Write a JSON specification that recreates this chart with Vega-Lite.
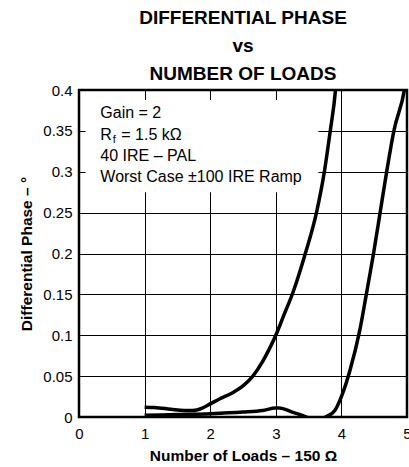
{
  "$schema": "https://vega.github.io/schema/vega-lite/v6.json",
  "autosize": {"type": "none"},
  "padding": {"left": 79, "top": 90, "right": 2, "bottom": 50},
  "width": 328,
  "height": 327,
  "background": "white",
  "config": {
    "font": "Liberation Sans",
    "view": {"stroke": "black", "strokeWidth": 2.5},
    "axis": {"labelColor": "black", "titleColor": "black"}
  },
  "title": {
    "text": ["DIFFERENTIAL PHASE", "vs", "NUMBER OF LOADS"],
    "font": "Liberation Sans",
    "fontSize": 19,
    "fontWeight": "bold",
    "lineHeight": 28,
    "anchor": "middle",
    "frame": "group",
    "color": "black",
    "offset": -10
  },
  "datasets": {
    "curves": [
      {"loads": 1.0, "phase": 0.012, "series": "A"},
      {"loads": 1.15, "phase": 0.0115, "series": "A"},
      {"loads": 1.4, "phase": 0.0095, "series": "A"},
      {"loads": 1.6, "phase": 0.008, "series": "A"},
      {"loads": 1.73, "phase": 0.008, "series": "A"},
      {"loads": 1.88, "phase": 0.011, "series": "A"},
      {"loads": 2.0, "phase": 0.016, "series": "A"},
      {"loads": 2.14, "phase": 0.022, "series": "A"},
      {"loads": 2.35, "phase": 0.03, "series": "A"},
      {"loads": 2.5, "phase": 0.038, "series": "A"},
      {"loads": 2.65, "phase": 0.05, "series": "A"},
      {"loads": 2.8, "phase": 0.068, "series": "A"},
      {"loads": 2.9, "phase": 0.083, "series": "A"},
      {"loads": 3.0, "phase": 0.1, "series": "A"},
      {"loads": 3.12, "phase": 0.124, "series": "A"},
      {"loads": 3.26, "phase": 0.152, "series": "A"},
      {"loads": 3.45, "phase": 0.2, "series": "A"},
      {"loads": 3.62, "phase": 0.25, "series": "A"},
      {"loads": 3.74, "phase": 0.3, "series": "A"},
      {"loads": 3.83, "phase": 0.35, "series": "A"},
      {"loads": 3.91, "phase": 0.4, "series": "A"},
      {"loads": 3.93, "phase": 0.42, "series": "A"},
      {"loads": 1.0, "phase": 0.002, "series": "B"},
      {"loads": 1.5, "phase": 0.003, "series": "B"},
      {"loads": 2.0, "phase": 0.004, "series": "B"},
      {"loads": 2.5, "phase": 0.006, "series": "B"},
      {"loads": 2.8, "phase": 0.008, "series": "B"},
      {"loads": 3.0, "phase": 0.011, "series": "B"},
      {"loads": 3.05, "phase": 0.011, "series": "B"},
      {"loads": 3.25, "phase": 0.006, "series": "B"},
      {"loads": 3.47, "phase": 0.0, "series": "B"},
      {"loads": 3.62, "phase": -0.006, "series": "B"},
      {"loads": 3.76, "phase": 0.0, "series": "B"},
      {"loads": 3.9, "phase": 0.008, "series": "B"},
      {"loads": 4.0, "phase": 0.025, "series": "B"},
      {"loads": 4.13, "phase": 0.057, "series": "B"},
      {"loads": 4.28, "phase": 0.106, "series": "B"},
      {"loads": 4.38, "phase": 0.15, "series": "B"},
      {"loads": 4.49, "phase": 0.2, "series": "B"},
      {"loads": 4.59, "phase": 0.25, "series": "B"},
      {"loads": 4.69, "phase": 0.3, "series": "B"},
      {"loads": 4.8, "phase": 0.35, "series": "B"},
      {"loads": 4.96, "phase": 0.4, "series": "B"},
      {"loads": 4.98, "phase": 0.41, "series": "B"}
    ]
  },
  "layer": [
    {
      "data": {"name": "curves"},
      "mark": {"type": "line", "opacity": 0},
      "encoding": {
        "x": {
          "field": "loads", "type": "quantitative",
          "scale": {"domain": [0, 5], "nice": false, "zero": false},
          "axis": {
            "values": [0, 1, 2, 3, 4, 5],
            "format": "d",
            "title": "Number of Loads – 150 Ω",
            "grid": true, "gridColor": "black", "gridWidth": 1, "gridOpacity": 1,
            "ticks": false, "domain": false,
            "labelFlush": false,
            "labelFontSize": 15, "labelPadding": 9,
            "titleFontSize": 15.5, "titleFontWeight": "bold", "titlePadding": 7
          }
        },
        "y": {
          "field": "phase", "type": "quantitative",
          "scale": {"domain": [0, 0.4], "nice": false, "zero": false},
          "axis": {
            "values": [0, 0.05, 0.1, 0.15, 0.2, 0.25, 0.3, 0.35, 0.4],
            "format": "~g",
            "title": "Differential Phase – °",
            "grid": true, "gridColor": "black", "gridWidth": 1, "gridOpacity": 1,
            "ticks": false, "domain": false,
            "labelFontSize": 15, "labelPadding": 7,
            "titleFontSize": 15.5, "titleFontWeight": "bold", "titlePadding": 8
          }
        },
        "detail": {"field": "series", "type": "nominal"}
      }
    },
    {
      "data": {"values": [{}]},
      "mark": {"type": "rect", "fill": "white", "stroke": null},
      "encoding": {
        "x": {"datum": 0.1, "type": "quantitative"},
        "x2": {"datum": 3.65},
        "y": {"datum": 0.3878, "type": "quantitative"},
        "y2": {"datum": 0.2748}
      }
    },
    {
      "data": {"values": [{}]},
      "mark": {"type": "text", "text": "Gain = 2", "fontSize": 16, "align": "left", "baseline": "alphabetic", "color": "black"},
      "encoding": {"x": {"datum": 0.325, "type": "quantitative"}, "y": {"datum": 0.3654, "type": "quantitative"}}
    },
    {
      "data": {"values": [{}]},
      "mark": {"type": "text", "text": "R", "fontSize": 16, "align": "left", "baseline": "alphabetic", "color": "black"},
      "encoding": {"x": {"datum": 0.325, "type": "quantitative"}, "y": {"datum": 0.3388, "type": "quantitative"}}
    },
    {
      "data": {"values": [{}]},
      "mark": {"type": "text", "text": "f", "fontSize": 11, "align": "left", "baseline": "alphabetic", "dx": 12.5, "dy": 3, "color": "black"},
      "encoding": {"x": {"datum": 0.325, "type": "quantitative"}, "y": {"datum": 0.3388, "type": "quantitative"}}
    },
    {
      "data": {"values": [{}]},
      "mark": {"type": "text", "text": "= 1.5 kΩ", "fontSize": 16, "align": "left", "baseline": "alphabetic", "dx": 21, "color": "black"},
      "encoding": {"x": {"datum": 0.325, "type": "quantitative"}, "y": {"datum": 0.3388, "type": "quantitative"}}
    },
    {
      "data": {"values": [{}]},
      "mark": {"type": "text", "text": "40 IRE – PAL", "fontSize": 16, "align": "left", "baseline": "alphabetic", "color": "black"},
      "encoding": {"x": {"datum": 0.325, "type": "quantitative"}, "y": {"datum": 0.3135, "type": "quantitative"}}
    },
    {
      "data": {"values": [{}]},
      "mark": {"type": "text", "text": "Worst Case ±100 IRE Ramp", "fontSize": 16, "align": "left", "baseline": "alphabetic", "color": "black"},
      "encoding": {"x": {"datum": 0.325, "type": "quantitative"}, "y": {"datum": 0.2871, "type": "quantitative"}}
    },
    {
      "data": {"name": "curves"},
      "mark": {"type": "line", "color": "black", "strokeWidth": 3.5, "clip": true, "interpolate": "monotone"},
      "encoding": {
        "x": {"field": "loads", "type": "quantitative"},
        "y": {"field": "phase", "type": "quantitative"},
        "detail": {"field": "series", "type": "nominal"}
      }
    }
  ]
}
